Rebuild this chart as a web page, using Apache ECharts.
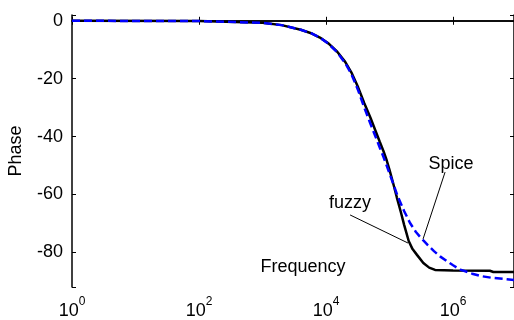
<!DOCTYPE html>
<html>
<head>
<meta charset="utf-8">
<script src="https://cdn.jsdelivr.net/npm/echarts@6/dist/echarts.min.js"></script>
<style>
html, body { margin: 0; padding: 0; background: #fff; }
#chart { width: 514px; height: 320px; }
</style>
</head>
<body>
<div id="chart"></div>
<script>
// values (frequency in Hz, phase in degrees)
const fuzzyFreq = [1, 100, 1000, 2000, 4000, 6000, 8000, 11000, 15000, 20000, 25000, 32000, 40000, 50000, 60000, 70000, 80000, 90000, 100000, 115000, 130000, 150000, 170000, 200000, 230000, 270000, 340000, 420000, 520000, 1000000, 3800000, 4300000, 9100000]
const fuzzyPhase = [0, -0.1, -0.7, -1.5, -3.1, -4.4, -5.8, -7.9, -10.7, -14.2, -17.8, -23, -28.5, -33.5, -38, -41.8, -45, -48.2, -51.6, -56.5, -61, -66, -70.6, -76.1, -78.9, -80.9, -83.7, -85.3, -86.1, -86.3, -86.4, -86.8, -86.8]

const spiceFreq = [1, 100, 1000, 2000, 4000, 6000, 8000, 11000, 15000, 20000, 25000, 32000, 40000, 50000, 60000, 70000, 80000, 90000, 100000, 115000, 135000, 170000, 210000, 260000, 300000, 340000, 400000, 500000, 630000, 800000, 1000000, 1300000, 2000000, 2700000, 4000000, 7000000, 9100000]
const spicePhase = [0, -0.1, -0.7, -1.5, -3.1, -4.4, -5.8, -8, -10.9, -14.6, -18.4, -24, -30, -35.6, -40, -43.8, -47, -50, -52.8, -56.5, -60.8, -65.8, -69.9, -73, -74.6, -75.9, -77.5, -79.6, -81.5, -83.1, -84.5, -86, -87.4, -88.2, -88.8, -89.3, -89.6]

const xLabels = [1, 100, 10000, 1000000]
const yLabels = [0, -20, -40, -60, -80]

const font = "'Liberation Sans', Arial, sans-serif"

function pairs(xs, ys) {
    return xs.map((x, i) => [x, ys[i]])
}

let chart = echarts.init(document.getElementById('chart'))

function axisLine() {
    return { show: true, lineStyle: { color: '#000', width: 1.5 } }
}
function tick() {
    return { show: true, inside: true, length: 4, lineStyle: { color: '#000', width: 1 } }
}
function blank() {
    return ''
}

let xRich = {
    b: { fontSize: 18, fontFamily: font, color: '#000', lineHeight: 30, verticalAlign: 'middle' },
    s: { fontSize: 12, fontFamily: font, color: '#000', lineHeight: 12, verticalAlign: 'top' }
}

// log axis: ticks every two decades; value axis: nice ticks every 20 degrees
function xAxis(pos, withLabels) {
    return {
        type: 'log', logBase: 10, min: 1, max: 9100000, interval: 2,
        position: pos,
        axisLine: axisLine(),
        axisTick: tick(),
        splitLine: { show: false },
        axisLabel: {
            margin: 9,
            showMinLabel: true,
            showMaxLabel: false,
            formatter: withLabels ? function (v) {
                if (xLabels.indexOf(v) < 0) return ''
                return '{b|10}{s|' + Math.round(Math.log10(v)) + '}'
            } : blank,
            rich: xRich
        }
    }
}

function yAxis(pos, withLabels) {
    return {
        type: 'value', min: -92, max: 2,
        position: pos,
        axisLine: axisLine(),
        axisTick: tick(),
        splitLine: { show: false },
        axisLabel: {
            margin: 9,
            fontSize: 18,
            fontFamily: font,
            color: '#000',
            formatter: withLabels ? function (v) {
                return yLabels.indexOf(v) < 0 ? '' : String(v)
            } : blank
        }
    }
}

let leftAxis = yAxis('left', true)
leftAxis.name = 'Phase'
leftAxis.nameLocation = 'middle'
leftAxis.nameGap = 47
leftAxis.nameTextStyle = { fontSize: 18, fontFamily: font, color: '#000' }

let option = {
    animation: false,
    grid: { left: 72, top: 15, right: 0, bottom: 33, containLabel: false, outerBoundsMode: 'none' },
    xAxis: [xAxis('bottom', true), xAxis('top', false)],
    yAxis: [leftAxis, yAxis('right', false)],
    series: [
        {
            name: 'fuzzy',
            type: 'line',
            data: pairs(fuzzyFreq, fuzzyPhase),
            showSymbol: false,
            lineStyle: { color: '#000', width: 2.5 }
        },
        {
            name: 'Spice',
            type: 'line',
            data: pairs(spiceFreq, spicePhase),
            showSymbol: false,
            lineStyle: { color: '#0000ff', width: 2.5, type: [8, 4] }
        }
    ]
}
chart.setOption(option)

// annotation pointers, in data coordinates
function px(f, v) {
    return chart.convertToPixel({ xAxisIndex: 0, yAxisIndex: 0 }, [f, v])
}
let fz0 = px(23900, -67.1), fz1 = px(195000, -76.8)
let sp0 = px(748000, -52.3), sp1 = px(337000, -75.4)

chart.setOption({
    graphic: [
        { type: 'line', shape: { x1: fz0[0], y1: fz0[1], x2: fz1[0], y2: fz1[1] }, style: { stroke: '#000', lineWidth: 1 } },
        { type: 'line', shape: { x1: sp0[0], y1: sp0[1], x2: sp1[0], y2: sp1[1] }, style: { stroke: '#000', lineWidth: 1 } },
        { type: 'text', x: 350, y: 203, style: { text: 'fuzzy', fontSize: 18, fontFamily: font, fill: '#000', align: 'center', verticalAlign: 'middle' } },
        { type: 'text', x: 451, y: 164, style: { text: 'Spice', fontSize: 18, fontFamily: font, fill: '#000', align: 'center', verticalAlign: 'middle' } },
        { type: 'text', x: 303, y: 267, style: { text: 'Frequency', fontSize: 18, fontFamily: font, fill: '#000', align: 'center', verticalAlign: 'middle' } }
    ]
})
</script>
</body>
</html>
